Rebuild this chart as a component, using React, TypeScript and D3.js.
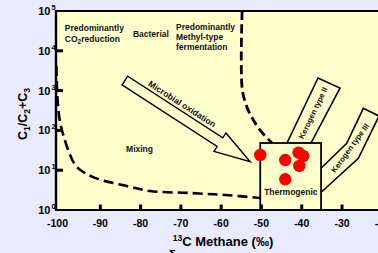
import React from "react";
import * as d3 from "d3";

const W = 378;
const H = 253;

// axis ticks
const xTicks = [-100, -90, -80, -70, -60, -50, -40, -30, -20];
const yExponents = [0, 1, 2, 3, 4, 5];

// samples: δ13C methane (‰) and C1/(C2+C3)
const sampleD13C = [-50.3, -44.1, -40.8, -39.6, -40.6, -44.1];
const sampleRatio = [24.1, 18.0, 27.5, 22.7, 12.8, 5.9];

// boundaries (data units)
const bacterialBoundary: [number, number][] = [
  [-100.9, 4150], [-100.6, 580], [-100.0, 163], [-98.8, 57], [-97.5, 24],
  [-95.8, 12], [-91.8, 6.7], [-83.4, 4.0], [-77.7, 3.0], [-67.7, 2.67],
  [-59.0, 2.38], [-50.35, 2.0],
];
const fermentationBoundary: [number, number][] = [
  [-54.8, 100000], [-54.8, 1162], [-53.8, 435], [-52.3, 205], [-50.35, 102], [-47.4, 48.2],
];
const thermoX = [-50.3, -35.2];
const thermoY = [1, 48.2];
const kerogenII: [number, number][] = [
  [-43.65, 48.2], [-35.96, 2074], [-30.5, 1162], [-37.7, 48.2],
];
const kerogenIII: [number, number][] = [
  [-35.21, 11.2], [-28.83, 47.4], [-24.71, 359], [-20.81, 230], [-25.95, 19.9], [-35.04, 2.88],
];
const arrowFrom: [number, number] = [-83.9, 1795];
const arrowTo: [number, number] = [-52.8, 16.3];

const FONT = "Arial, 'Liberation Sans', Helvetica, sans-serif";
const BG = "#EAEAFF";
const PLOT = "#FFFFCC";

export default function App() {
  const x = d3.scaleLinear().domain([-101, -20]).range([56, 382.3]);
  const y = d3.scaleLog().domain([1, 1e5]).range([210, 11]);

  const line = d3
    .line<[number, number]>()
    .x((d) => x(d[0]))
    .y((d) => y(d[1]))
    .curve(d3.curveCatmullRom.alpha(0.5));
  const poly = (pts: [number, number][]) =>
    pts.map((p) => `${x(p[0])},${y(p[1])}`).join(" ");

  // arrow geometry
  const sx = x(arrowFrom[0]), sy = y(arrowFrom[1]);
  const tx = x(arrowTo[0]), ty = y(arrowTo[1]);
  const len = Math.hypot(tx - sx, ty - sy);
  const ux = (tx - sx) / len, uy = (ty - sy) / len;
  const nx = -uy, ny = ux;
  const hw = 5.2, hh = 11, hl = 36;
  const bx = tx - ux * hl, by = ty - uy * hl;
  const arrowPts = [
    [sx + nx * hw, sy + ny * hw],
    [bx + nx * hw, by + ny * hw],
    [bx + nx * hh, by + ny * hh],
    [tx, ty],
    [bx - nx * hh, by - ny * hh],
    [bx - nx * hw, by - ny * hw],
    [sx - nx * hw, sy - ny * hw],
  ]
    .map((p) => p.join(","))
    .join(" ");

  const lbl = (px: number, py: number) => ({ x: x(px), y: y(py) });
  const microbial = lbl(-69.7, 461);
  const kII = lbl(-37.2, 274);
  const kIII = lbl(-28.0, 36.1);

  return (
    <svg
      width={W}
      height={H}
      style={{ position: "absolute", left: 0, top: 0, display: "block" }}
      fontFamily={FONT}
      fontWeight="bold"
    >
      <rect x={0} y={0} width={W} height={H} fill={BG} />
      <rect x={x(-101)} y={y(1e5)} width={W} height={y(1) - y(1e5)} fill={PLOT} />

      {/* dashed boundaries */}
      <path
        d={line(bacterialBoundary) || ""}
        fill="none"
        stroke="#000"
        strokeWidth={2.6}
        strokeDasharray="10,5"
      />
      <path
        d={line(fermentationBoundary) || ""}
        fill="none"
        stroke="#000"
        strokeWidth={2.8}
        strokeDasharray="9,4.5"
      />

      {/* kerogen bands */}
      <polygon points={poly(kerogenII)} fill={PLOT} stroke="#000" strokeWidth={1.6} />
      <polyline points={poly(kerogenIII)} fill={PLOT} stroke="#000" strokeWidth={1.6} />

      {/* thermogenic box */}
      <rect
        x={x(thermoX[0])}
        y={y(thermoY[1])}
        width={x(thermoX[1]) - x(thermoX[0])}
        height={y(thermoY[0]) - y(thermoY[1])}
        fill={PLOT}
        stroke="#000"
        strokeWidth={1.8}
      />

      {/* microbial oxidation arrow */}
      <polygon points={arrowPts} fill={PLOT} stroke="#000" strokeWidth={1.4} />

      {/* samples */}
      {sampleD13C.map((v, i) => (
        <circle key={i} cx={x(v)} cy={y(sampleRatio[i])} r={6.2} fill="#FF0000" />
      ))}

      {/* frame */}
      <line x1={x(-101)} x2={W} y1={y(1e5)} y2={y(1e5)} stroke="#000" strokeWidth={2.2} />
      <line x1={x(-101)} x2={W} y1={y(1)} y2={y(1)} stroke="#000" strokeWidth={2.2} />
      <line x1={x(-101)} x2={x(-101)} y1={y(1e5) - 1} y2={y(1) + 1} stroke="#000" strokeWidth={2.4} />

      {/* x ticks */}
      {xTicks.map((t) => (
        <g key={t}>
          {t !== -100 && (
            <line x1={x(t)} x2={x(t)} y1={y(1)} y2={y(1) - 5.5} stroke="#000" strokeWidth={3} />
          )}
          <text x={x(t) - (t === -100 ? 2.5 : 0)} y={226.5} fontSize={10.5} textAnchor="middle" fill="#000">
            {t}
          </text>
        </g>
      ))}

      {/* y ticks */}
      {yExponents.map((e) => (
        <g key={e}>
          {e > 0 && e < 5 && (
            <line x1={x(-101)} x2={x(-101) + 7} y1={y(10 ** e)} y2={y(10 ** e)} stroke="#000" strokeWidth={3} />
          )}
          <text x={50.5} y={y(10 ** e) + 4} fontSize={11} textAnchor="end" fill="#000">
            10
          </text>
          <text x={51.5} y={y(10 ** e) - 1} fontSize={7.5} fill="#000">
            {e}
          </text>
        </g>
      ))}

      {/* axis titles */}
      <text x={223} y={245.5} fontSize={13} textAnchor="middle" fill="#000">
        <tspan fontSize={8.5} dy={-4.5}>13</tspan>
        <tspan dy={4.5}>C Methane (‰)</tspan>
      </text>
      <text x={172} y={259} fontSize={13} textAnchor="middle" fill="#000">δ</text>
      <text transform="translate(27,114) rotate(-90)" fontSize={12.5} textAnchor="middle" fill="#000">
        C<tspan fontSize={8.5} dy={2.5}>1</tspan>
        <tspan dy={-2.5}>/C</tspan>
        <tspan fontSize={8.5} dy={2.5}>2</tspan>
        <tspan dy={-2.5}>+C</tspan>
        <tspan fontSize={8.5} dy={2.5}>3</tspan>
      </text>

      {/* region labels */}
      <text x={x(-98.8)} y={31} fontSize={8.5} fill="#111">Predominantly</text>
      <text x={x(-98.8)} y={41.5} fontSize={8.5} fill="#111">
        CO<tspan fontSize={6.5} dy={2.5}>2</tspan>
        <tspan dy={-2.5}>reduction</tspan>
      </text>
      <text x={x(-81.9)} y={37} fontSize={8.5} fill="#111">Bacterial</text>
      <text x={x(-71.2)} y={29.5} fontSize={8.5} fill="#111">Predominantly</text>
      <text x={x(-71.2)} y={39.8} fontSize={8.5} fill="#111">Methyl-type</text>
      <text x={x(-71.2)} y={50} fontSize={8.5} fill="#111">fermentation</text>
      <text x={x(-83.6)} y={y(28.7)} fontSize={8.5} fill="#111">Mixing</text>
      <text x={x(-42.7)} y={y(2.38)} fontSize={8.5} textAnchor="middle" fill="#111">Thermogenic</text>
      <text
        transform={`translate(${microbial.x},${microbial.y}) rotate(32.7)`}
        fontSize={8.6}
        textAnchor="middle"
        dy="0.35em"
        fill="#111"
      >
        Microbial oxidation
      </text>
      <text
        transform={`translate(${kII.x},${kII.y}) rotate(-64.5)`}
        fontSize={7.8}
        textAnchor="middle"
        dy="0.35em"
        fill="#111"
      >
        Kerogen type II
      </text>
      <text
        transform={`translate(${kIII.x},${kIII.y}) rotate(-54)`}
        fontSize={7.8}
        textAnchor="middle"
        dy="0.35em"
        fill="#111"
      >
        Kerogen type III
      </text>
    </svg>
  );
}
